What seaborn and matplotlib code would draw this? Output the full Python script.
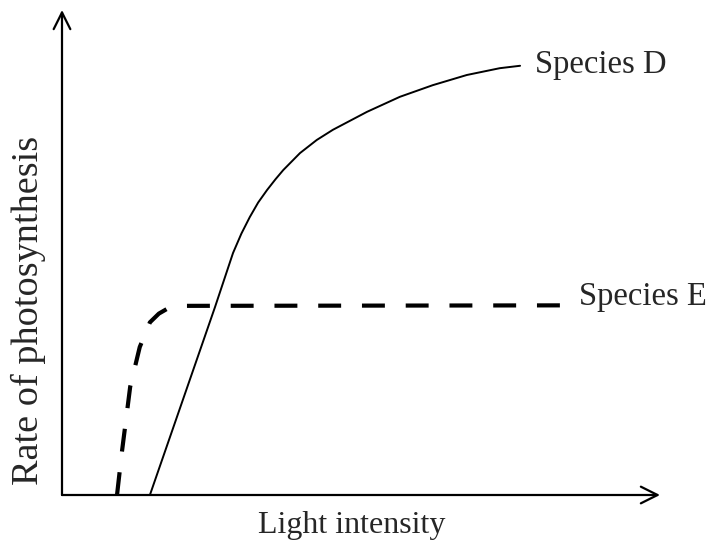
import matplotlib
matplotlib.use("Agg")
import matplotlib.pyplot as plt
import seaborn as sns
import pandas as pd

# curve points (arbitrary units, 0-100 on both axes)
species_d_light = [14.7, 25.6, 28.6, 30.0, 31.4, 32.8, 34.3, 35.7, 37.0, 39.8, 42.6, 45.3,
                   51.0, 56.5, 62.0, 67.7, 73.2, 76.6]
species_d_rate = [0.0, 38.8, 49.9, 53.9, 57.3, 60.3, 62.9, 65.1, 67.0, 70.5, 73.2, 75.3,
                  79.0, 82.1, 84.5, 86.6, 88.0, 88.5]

species_e_light = [9.2, 10.0, 11.4, 13.0, 14.7, 16.2, 17.6, 20.6, 83.3]
species_e_rate = [0.0, 8.7, 22.3, 30.5, 35.6, 37.4, 38.4, 39.0, 39.1]

sns.set_style("white")
plt.rcParams["font.family"] = ["Liberation Serif", "DejaVu Serif"]

df_d = pd.DataFrame({"light": species_d_light, "rate": species_d_rate})
df_e = pd.DataFrame({"light": species_e_light, "rate": species_e_rate})

W, H = 713, 544
fig = plt.figure(figsize=(W / 100, H / 100), dpi=100)
ax = fig.add_axes([62 / W, (H - 495) / H, (660 - 62) / W, (495 - 10) / H])

sns.lineplot(data=df_d, x="light", y="rate", ax=ax, color="black", lw=1.4, sort=False)
sns.lineplot(data=df_e, x="light", y="rate", ax=ax, color="black", lw=3.0, sort=False,
             dashes=False, linestyle=(0, (5.5, 5.0)))

ax.set_xlim(0, 100)
ax.set_ylim(0, 100)
ax.set_xticks([])
ax.set_yticks([])
ax.set_xlabel("")
ax.set_ylabel("")
for s in ax.spines.values():
    s.set_visible(False)

# axes with open arrow heads
arrow = dict(arrowstyle="->,head_length=1.2,head_width=0.6", lw=1.6, color="black",
             shrinkA=0, shrinkB=0)
ax.annotate("", xy=(1, 0), xytext=(0, 0), xycoords="axes fraction",
            textcoords="axes fraction", arrowprops=arrow, annotation_clip=False)
ax.annotate("", xy=(0, 1), xytext=(0, 0), xycoords="axes fraction",
            textcoords="axes fraction", arrowprops=arrow, annotation_clip=False)

fig.text(535 / W, 1 - 65 / H, "Species D", fontsize=23.5, ha="left", va="center")
fig.text(579 / W, 1 - 297 / H, "Species E", fontsize=23.5, ha="left", va="center")
fig.text(352 / W, 1 - 525 / H, "Light intensity", fontsize=23, ha="center", va="center")
fig.text(28 / W, 1 - 310 / H, "Rate of photosynthesis", fontsize=27.5, ha="center",
         va="center", rotation=90)

fig.savefig("out.png", dpi=100, facecolor="white")
